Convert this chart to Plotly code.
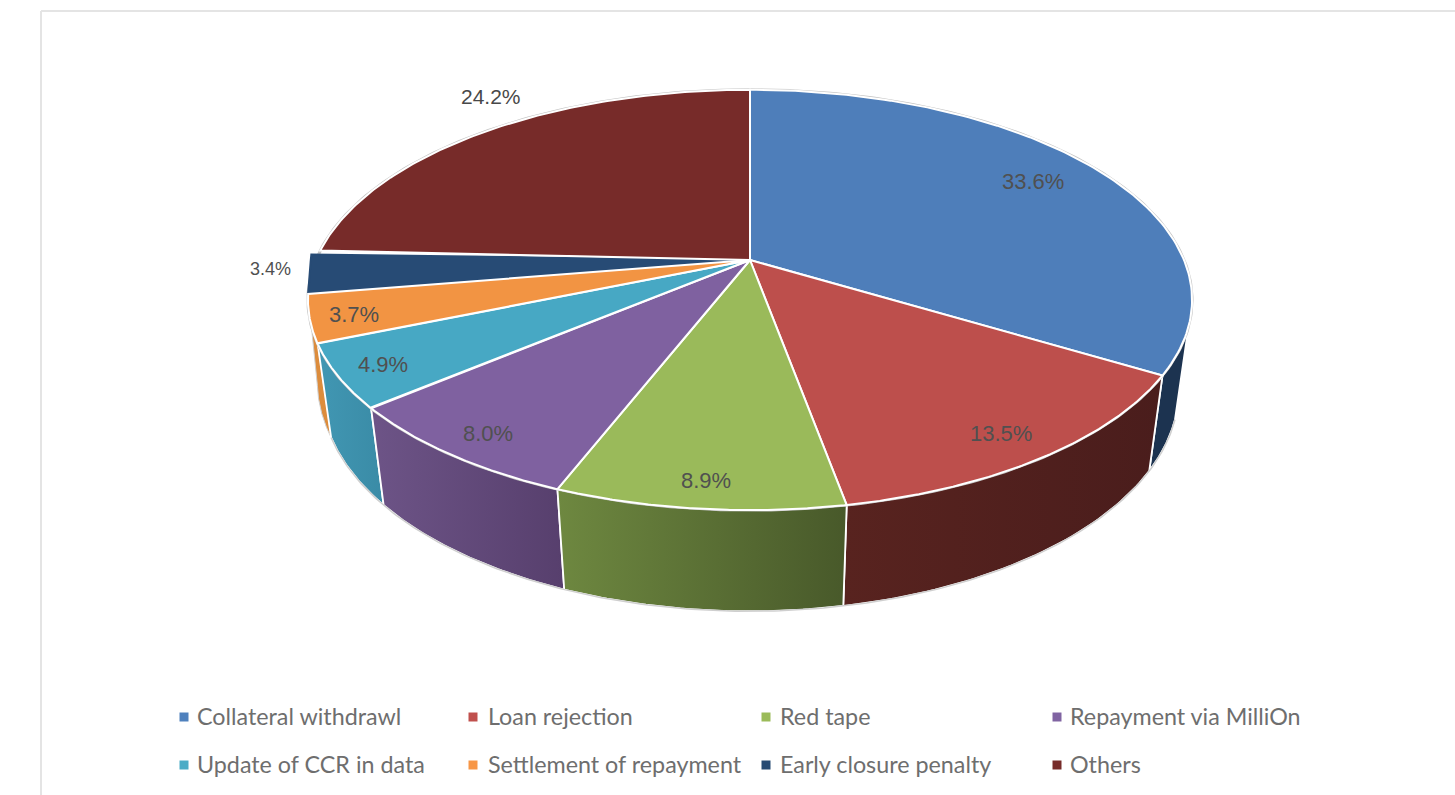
import numpy as np
import plotly.graph_objects as go

# ---- data ----
categories = ["Collateral withdrawl", "Loan rejection", "Red tape", "Repayment via MilliOn",
              "Update of CCR in data", "Settlement of repayment", "Early closure penalty", "Others"]
# slice sizes; the printed labels are rounded and add up to 100.2
values = [33.6, 13.5, 8.85, 7.95, 4.85, 3.65, 3.35, 24.25]
value_labels = ["33.6%", "13.5%", "8.9%", "8.0%", "4.9%", "3.7%", "3.4%", "24.2%"]

# ---- styles ----
top_colors = ["#4e7eba", "#bd4f4c", "#9aba5a", "#7f61a0", "#47a8c4", "#f29443", "#274b75", "#772b29"]
legend_colors = ["#4f81bd", "#c0504d", "#9bbb59", "#8064a2", "#4bacc6", "#f79646", "#264a73", "#772c2a"]
wall_grad = {0: ("#1c3350", "#1c3350"), 1: ("#58231f", "#4a1d1c"), 2: ("#6e8840", "#48592a"),
             3: ("#6d5487", "#573f6d"), 4: ("#4197b3", "#3a8ba6"), 5: ("#dc8c3c", "#dc8c3c")}

# perspective disc model, in pixel-like axis units
CX, CY, A, B, K, C, H = 750.0, 260.0, 434.0, 202.6, 0.19, 0.03, 92.5


def rim(theta, lower=False):
    u, v = np.sin(theta), np.cos(theta)
    w = 1 + K * v
    if lower:
        return CX + A * u / (w + C), CY + (-B * v + H) / (w + C)
    return CX + A * u / w, CY - B * v / w


edges = np.concatenate([[0], np.cumsum(values)]) / sum(values) * 2 * np.pi
fig = go.Figure()
BG = dict(mode="lines", hoverinfo="skip", showlegend=False)

# walls
wall_first = np.radians(108)
for i in [0, 5, 4, 1, 3, 2]:
    start = max(edges[i], wall_first)
    t = np.linspace(start, edges[i + 1], 50)
    xt, yt = rim(t)
    xb, yb = rim(t, True)
    if i == 5:
        xb = xb - 4 * np.linspace(0, 1, 50)
    c0, c1 = wall_grad[i]
    fig.add_trace(go.Scatter(
        x=np.concatenate([xt, xb[::-1], xt[:1]]), y=np.concatenate([yt, yb[::-1], yt[:1]]),
        fill="toself", line=dict(color="#d0d0d0" if i == 5 else "white", width=1 if i == 5 else 1.8),
        fillgradient=dict(type="horizontal", colorscale=[[0, c0], [1, c1]]), **BG))

# lower silhouette
t = np.linspace(wall_first, edges[5], 200)
xb, yb = rim(t, True)
fig.add_trace(go.Scatter(x=xb, y=yb, line=dict(color="#cfcfcf", width=1.5), **BG))

# gray outer rim of the top face
t = np.linspace(0, 2 * np.pi, 400)
xr, yr = rim(t)
fig.add_trace(go.Scatter(x=xr, y=yr, line=dict(color="#c4c4c4", width=3), **BG))

# top faces (navy first: it pokes out slightly and is overlapped by its neighbours)
for i in [6, 0, 1, 2, 3, 4, 5, 7]:
    t = np.linspace(edges[i], edges[i + 1], 120)
    xa, ya = rim(t)
    if i == 6:
        s = np.linspace(0, 1, 120) ** 2
        xa, ya = xa - 9 * s, ya + 4 * s
    fig.add_trace(go.Scatter(
        x=np.concatenate([[CX], xa, [CX]]), y=np.concatenate([[CY], ya, [CY]]),
        fill="toself", fillcolor=top_colors[i],
        line=dict(color="white" if i != 6 else top_colors[i], width=2), **BG))

# legend markers
legend_mx = [184, 473, 766, 1057, 184, 473, 766, 1057]
legend_tx = [195, 486, 778, 1068, 195, 486, 778, 1068]
legend_y = [717, 717, 717, 717, 765, 765, 765, 765]
fig.add_trace(go.Scatter(x=legend_mx, y=legend_y, mode="markers", hoverinfo="skip", showlegend=False,
                         marker=dict(symbol="square", size=9, color=legend_colors, line=dict(width=0))))

annotations = []
for name, x, y in zip(categories, legend_tx, legend_y):
    annotations.append(dict(x=x, y=y - 1, text=name, xanchor="left", yanchor="middle", showarrow=False,
                            xref="x", yref="y", font=dict(family="Lato", size=23.3, color="#6e6e6e")))

label_x = [1033, 1001, 706, 488, 383, 354, 270, 491]
label_y = [181, 433, 480, 433, 364, 314, 269, 96]
label_size = [22, 22, 22, 22, 22, 22, 18, 21]
label_col = ["#505050"] * 6 + ["#505050", "#484848"]
for s, x, y, fs, col in zip(value_labels, label_x, label_y, label_size, label_col):
    annotations.append(dict(x=x, y=y, text=s, xanchor="center", yanchor="middle", showarrow=False,
                            xref="x", yref="y", font=dict(family="Liberation Sans", size=fs, color=col)))

frame = dict(color="#e4e4e4", width=2)
shapes = [dict(type="line", x0=41, x1=1455, y0=11, y1=11, line=frame, layer="below"),
          dict(type="line", x0=41, x1=41, y0=11, y1=795, line=frame, layer="below")]

fig.update_layout(
    width=1455, height=795, margin=dict(l=0, r=0, t=0, b=0), autosize=False,
    paper_bgcolor="white", plot_bgcolor="white", showlegend=False,
    xaxis=dict(range=[0, 1455], visible=False, fixedrange=True),
    yaxis=dict(range=[795, 0], visible=False, fixedrange=True),
    annotations=annotations, shapes=shapes)

fig.write_html("out.html", config={"displayModeBar": False},
               post_script="document.body.style.margin='0';document.body.style.overflow='hidden';")
